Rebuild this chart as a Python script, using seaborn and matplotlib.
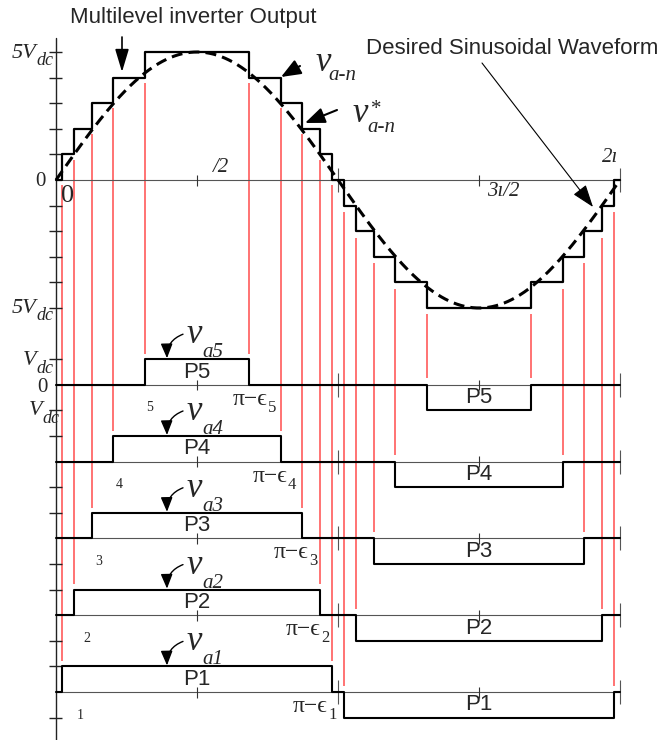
import numpy as np
import pandas as pd
import matplotlib
matplotlib.use("Agg")
import matplotlib.pyplot as plt
import seaborn as sns

# ---------------- data ----------------
theta = [4.0, 11.5, 23.0, 36.5, 57.0]          # switching angles (deg), level 1..5
levels = [1, 2, 3, 4, 5]
pulse_names = ["P1", "P2", "P3", "P4", "P5"]
row_base = [-20, -17, -14, -11, -8]             # baseline of each pulse row (Vdc units)
amp = 5                                         # desired sine amplitude (Vdc)
left_ticks = [5, 4, 3, 2, 1, -1, -2, -3, -4, -5, -7, -9, -10, -12, -13,
              -15, -16, -18, -19, -21]
angle_labels = ["/2", "3\u0131/2", "2\u0131"]
theta_label_x = [15.3, 19.8, 27.4, 40.2, 60.0]  # positions of the small index labels (deg)
pe_label_px = [327, 320, 308, 287, 267]         # right edge of "π−ϵk" labels (px)

# ---------------- style ----------------
sns.set_style("white")
serif = ["Liberation Serif", "DejaVu Serif"]
sans = ["Liberation Sans", "DejaVu Sans"]
plt.rcParams["font.family"] = serif

W, H = 664, 740
PX_DEG = 564 / 360.0
PX_LVL = 25.6
X0, Y0 = 56, 180


def X(px):
    return (px - X0) / PX_DEG


def Y(py):
    return (Y0 - py) / PX_LVL


fig = plt.figure(figsize=(W / 100, H / 100), dpi=100)
ax = fig.add_axes([0, 0, 1, 1])
ax.set_xlim(X(0), X(W))
ax.set_ylim(Y(H), Y(0))
ax.axis("off")

# ---------------- staircase output ----------------
xs, ys = [0.0], [0]
for t, l in zip(theta, levels):
    xs.append(t); ys.append(l)
for t, l in reversed(list(zip(theta, levels))):
    xs.append(180 - t); ys.append(l - 1)
for t, l in zip(theta, levels):
    xs.append(180 + t); ys.append(-l)
for t, l in reversed(list(zip(theta, levels))):
    xs.append(360 - t); ys.append(-(l - 1))
xs.append(360.0); ys.append(0)
stair = pd.DataFrame({"angle": xs, "v": ys})
sns.lineplot(data=stair, x="angle", y="v", drawstyle="steps-post", estimator=None,
             sort=False, color="black", lw=1.6, ax=ax, zorder=4)

# ---------------- desired sine ----------------
ang = np.linspace(0, 360, 721)
sine = pd.DataFrame({"angle": ang, "v": amp * np.sin(np.radians(ang))})
sns.lineplot(data=sine, x="angle", y="v", estimator=None, sort=False,
             color="black", lw=2.2, ax=ax, zorder=5)
ax.lines[-1].set_dashes([3.6, 2.0])

# ---------------- zero lines and ticks ----------------
bases = [0] + row_base
ax.hlines(bases, 0, 360, color="#555555", lw=0.8, zorder=2)
for b in bases:
    ax.vlines([180, 360], b - 0.47, b + 0.47, color="#555555", lw=0.8, zorder=2)
    ax.vlines([90, 270], b - 0.22, b + 0.2, color="#333333", lw=0.8, zorder=2)

ax.plot([0, 0], [Y(38), Y(H)], color="#222222", lw=1.0, zorder=3)
ax.hlines(left_ticks, X(49), X(62), color="#222222", lw=1.0, zorder=3)

# ---------------- pulses ----------------
for t, base, name in zip(theta, row_base, pulse_names):
    px_ = [0, t, 180 - t, 180 + t, 360 - t, 360]
    py_ = [base, base + 1, base, base - 1, base, base]
    df = pd.DataFrame({"angle": px_, "v": py_})
    sns.lineplot(data=df, x="angle", y="v", drawstyle="steps-post", estimator=None,
                 sort=False, color="black", lw=1.5, ax=ax, zorder=4)
    ax.text(90, base + 0.5, name, family=sans, fontsize=16, ha="center", va="center", zorder=6)
    ax.text(270, base - 0.5, name, family=sans, fontsize=16, ha="center", va="center", zorder=6)

# ---------------- red guide lines ----------------
red = "#ff4d4d"
for t, l, base in zip(theta, levels, row_base):
    ax.vlines([t, 180 - t], base + 1 + 0.2, (l - 1) - 0.2, color=red, lw=1.1, zorder=1)
    ax.vlines([180 + t, 360 - t], base + 0.25, -l - 0.25, color=red, lw=1.1, zorder=1)

# ---------------- annotations ----------------
def T(px, py, s, size, family=serif, style="normal", ha="center", va="center"):
    ax.text(X(px), Y(py), s, fontsize=size, family=family, style=style,
            ha=ha, va=va, zorder=7)


def arrow(x1, y1, x2, y2, lw=1.2, ms=14, hl=0.9, hw=0.3, rad=0.0):
    ax.annotate("", xy=(X(x2), Y(y2)), xytext=(X(x1), Y(y1)),
                arrowprops=dict(arrowstyle=f"-|>,head_length={hl},head_width={hw}",
                                mutation_scale=ms, color="black", lw=lw,
                                shrinkA=0, shrinkB=0,
                                connectionstyle=f"arc3,rad={rad}"), zorder=7)


T(193, 17, "Multilevel inverter Output", 16, family=sans)
arrow(122, 37, 122, 72, lw=1.2, ms=14, hl=1.0, hw=0.3)
T(512, 48, "Desired Sinusoidal Waveform", 16, family=sans)
arrow(482, 63, 593, 207, lw=0.8, ms=14, hl=1.0, hw=0.35)

# v_{a-n}
T(323, 71, "v", 25, style="italic", va="baseline")
T(342, 80, "a-n", 15, style="italic", va="baseline")
arrow(300, 66, 281, 77, lw=1.5, ms=12, hl=1.0, hw=0.4)
# v*_{a-n}
T(360, 122, "v", 25, style="italic", va="baseline")
T(376, 110, "*", 15, va="center")
T(381, 132, "a-n", 15, style="italic", va="baseline")
arrow(337, 110, 305, 123, lw=1.5, ms=12, hl=1.0, hw=0.4)

# left axis labels
T(36, 58, "5V", 16, style="italic", ha="right", va="baseline")
T(36, 65, "dc", 13, style="italic", ha="left", va="baseline")
T(46, 181, "0", 15, ha="right")
T(36, 313, "5V", 16, style="italic", ha="right", va="baseline")
T(36, 320, "dc", 13, style="italic", ha="left", va="baseline")
T(36, 365, "V", 16, style="italic", ha="right", va="baseline")
T(36, 373, "dc", 13, style="italic", ha="left", va="baseline")
T(48, 387, "0", 15, ha="right")
T(42, 415, "V", 16, style="italic", ha="right", va="baseline")
T(42, 423, "dc", 13, style="italic", ha="left", va="baseline")

# angle labels
T(68, 196, "0", 19)
T(221, 168, angle_labels[0], 15, style="italic")
T(503, 192, angle_labels[1], 15, style="italic")
T(610, 157, angle_labels[2], 15, style="italic")

# per-row labels
for t, l, base, lx, pe in zip(theta, levels, row_base, theta_label_x, pe_label_px):
    top_px = Y0 - (base + 1) * PX_LVL
    base_px = Y0 - base * PX_LVL
    # v_ak
    T(194, top_px - 16, "v", 25, style="italic", va="baseline")
    T(202, top_px - 2, f"a{l}", 15, style="italic", ha="left", va="baseline")
    arrow(183, top_px - 25, 167, top_px - 1, lw=1.0, ms=8, hl=1.1, hw=0.45, rad=0.35)
    # small index label
    ax.text(lx, base - 0.9, str(l), fontsize=10, family=serif, ha="center", va="center")
    # π−ϵk
    T(pe, base_px + 20, "\u03c0\u2212\u03f5", 17, ha="right", va="baseline")
    T(pe + 1, base_px + 27, str(l), 12, ha="left", va="baseline")

fig.savefig("out.png", dpi=100)
